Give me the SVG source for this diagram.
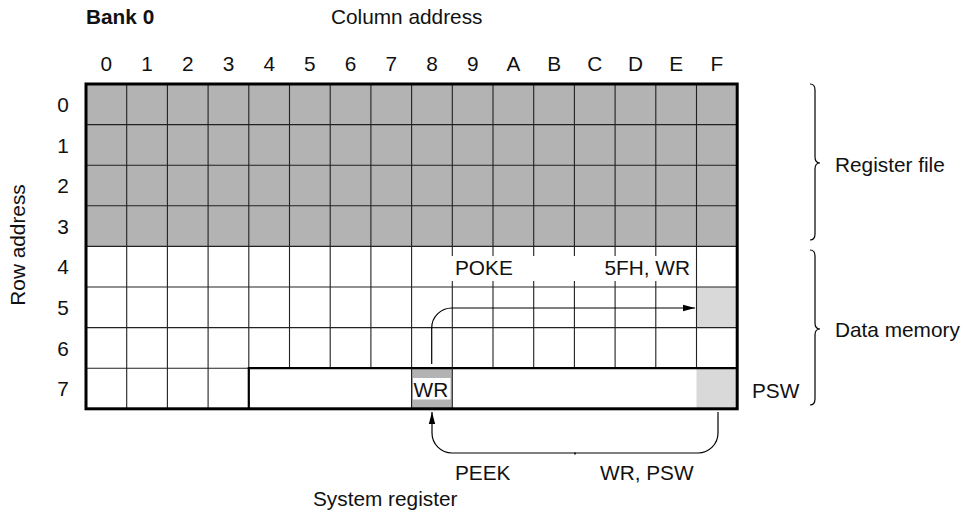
<svg xmlns="http://www.w3.org/2000/svg" width="963" height="514" viewBox="0 0 963 514">
<style>
text{font-family:"Liberation Sans",Arial,sans-serif;font-size:20.8px;fill:#111}
.c{text-anchor:middle}
.g{stroke:#222;stroke-width:1.1;fill:none}
.k{stroke:#000;stroke-width:1.2;fill:none}
.dk{fill:#b3b3b3}
.lt{fill:#d9d9d9}
</style>
<defs>
<marker id="ah" viewBox="0 0 12 8" refX="12" refY="4" markerWidth="12" markerHeight="8" markerUnits="userSpaceOnUse" orient="auto">
<path d="M0,0.8 L12,4 L0,7.2 Z" fill="#000"/>
</marker>
</defs>
<rect width="963" height="514" fill="#fff"/>
<g id="title">
<text x="86" y="24" style="font-weight:bold">Bank 0</text>
<text x="331" y="24">Column address</text>
</g>
<g id="col-labels">
<text class="c" x="106.4" y="71">0</text>
<text class="c" x="147.1" y="71">1</text>
<text class="c" x="187.8" y="71">2</text>
<text class="c" x="228.5" y="71">3</text>
<text class="c" x="269.2" y="71">4</text>
<text class="c" x="309.9" y="71">5</text>
<text class="c" x="350.6" y="71">6</text>
<text class="c" x="391.3" y="71">7</text>
<text class="c" x="432" y="71">8</text>
<text class="c" x="472.7" y="71">9</text>
<text class="c" x="513.4" y="71">A</text>
<text class="c" x="554.1" y="71">B</text>
<text class="c" x="594.8" y="71">C</text>
<text class="c" x="635.5" y="71">D</text>
<text class="c" x="676.2" y="71">E</text>
<text class="c" x="716.9" y="71">F</text>
</g>
<g id="row-labels">
<text class="c" x="63" y="112">0</text>
<text class="c" x="63" y="152.6">1</text>
<text class="c" x="63" y="193.2">2</text>
<text class="c" x="63" y="233.8">3</text>
<text class="c" x="63" y="274.4">4</text>
<text class="c" x="63" y="315">5</text>
<text class="c" x="63" y="355.6">6</text>
<text class="c" x="63" y="396.2">7</text>
<text class="c" transform="translate(24.5,245) rotate(-90)">Row address</text>
</g>
<g id="memory-grid">
<rect class="dk" x="86" y="84" width="651.2" height="162.4"/>
<rect class="lt" x="696.5" y="287" width="40.7" height="40.6"/>
<rect class="lt" x="696.5" y="368.2" width="40.7" height="40.6"/>
<path class="g" d="M126.7,84V408.8M167.4,84V408.8M208.1,84V408.8M248.8,84V368.2M289.5,84V368.2M330.2,84V368.2M370.9,84V368.2M411.6,84V408.8M452.3,84V368.2M493,84V368.2M533.7,84V368.2M574.4,84V368.2M615.1,84V368.2M655.8,84V368.2M696.5,84V368.2"/>
<path class="g" d="M86,124.6H737.2M86,165.2H737.2M86,205.8H737.2M86,246.4H737.2M86,287H737.2M86,327.6H737.2M86,368.2H248.8"/>
</g>
<g id="system-register">
<rect class="dk" x="411.6" y="368.2" width="40.7" height="40.6"/>
<path d="M248.8,408.8V368.2H737.2" stroke="#000" stroke-width="2.2" fill="none"/>
<path class="g" d="M411.6,368.2V408.8M452.3,368.2V408.8"/>
<rect x="413" y="378" width="37.5" height="21.5" fill="#fff"/>
<text x="413.5" y="396.5">WR</text>
</g>
<rect x="86" y="84" width="651.2" height="324.8" fill="none" stroke="#000" stroke-width="3"/>
<g id="poke-label">
<rect x="451" y="256" width="243" height="25" fill="#fff"/>
<text x="455" y="275">POKE</text>
<text x="690" y="275" text-anchor="end">5FH, WR</text>
</g>
<g id="connectors">
<path class="k" d="M431.7,364V328A20,20 0 0 1 451.7,308H695" marker-end="url(#ah)"/>
<path class="k" d="M718,412V433A20,20 0 0 1 698,453H452A20,20 0 0 1 432,433V412" marker-end="url(#ah)"/>
<path d="M575,452.5V454.5" stroke="#000" stroke-width="1.5"/>
</g>
<g id="braces">
<path class="k" d="M810,84Q815,84 815,90V157Q815,163 820,163Q815,163 815,169V234Q815,240 810,240"/>
<path class="k" d="M810,250Q815,250 815,256V323Q815,329 820,329Q815,329 815,335V399Q815,405 810,405"/>
</g>
<g id="side-labels">
<text x="835" y="172">Register file</text>
<text x="835" y="337">Data memory</text>
<text x="752" y="398">PSW</text>
<text x="455" y="480">PEEK</text>
<text x="600" y="480">WR, PSW</text>
<text x="313" y="506">System register</text>
</g>
</svg>
